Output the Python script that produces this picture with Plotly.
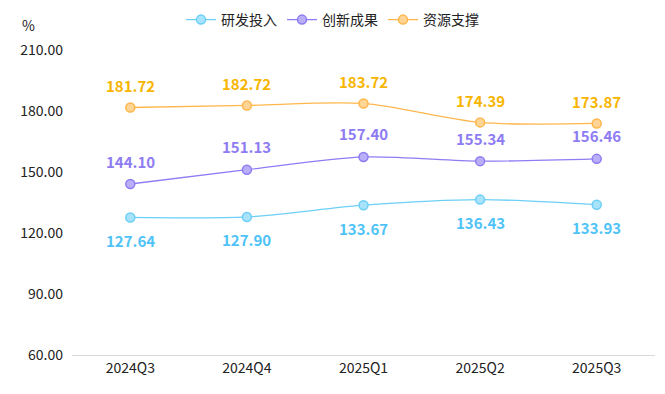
import plotly.graph_objects as go

categories = ["2024Q3", "2024Q4", "2025Q1", "2025Q2", "2025Q3"]
rd_input = [127.64, 127.90, 133.67, 136.43, 133.93]
innovation = [144.10, 151.13, 157.40, 155.34, 156.46]
resources = [181.72, 182.72, 183.72, 174.39, 173.87]

series = [
    ("研发投入", rd_input, "#6CCFF6", "#A8E3FB", "#4FC3F7", -23),
    ("创新成果", innovation, "#8E7CF3", "#B9AEF8", "#8E7CF3", 23),
    ("资源支撑", resources, "#FFB74D", "#FFD596", "#F7B500", 22),
]

font_family = "Noto Sans CJK SC, Noto Sans, sans-serif"

fig = go.Figure()
annotations = []
for name, vals, color, fill, tcolor, shift in series:
    fig.add_trace(go.Scatter(
        x=categories, y=vals, name=name,
        mode="lines+markers",
        line=dict(color=color, width=1.3, shape="spline", smoothing=0.8),
        marker=dict(symbol="circle", size=9, color=fill, line=dict(color=color, width=1.5)),
        cliponaxis=False,
    ))
    for c, v in zip(categories, vals):
        annotations.append(dict(
            x=c, y=v, xref="x", yref="y", text=f"{v:.2f}", showarrow=False,
            yshift=shift, xanchor="center", yanchor="middle",
            font=dict(color=tcolor, size=15, family=font_family, weight="bold"),
        ))

annotations.append(dict(text="%", xref="paper", yref="paper", x=(28 - 72) / 583, y=(355 - 25) / 305,
                        xanchor="center", yanchor="middle", showarrow=False,
                        font=dict(size=14, color="#222")))

fig.update_layout(
    width=665, height=394,
    margin=dict(l=72, r=10, t=50, b=39, autoexpand=False),
    paper_bgcolor="white", plot_bgcolor="white",
    font=dict(family=font_family, size=14, color="#222"),
    showlegend=True,
    legend=dict(orientation="h", xref="container", x=0.5, xanchor="center",
                yref="container", y=1 - 20 / 394, yanchor="middle",
                font=dict(size=14, color="#222"), tracegroupgap=0),
    xaxis=dict(showgrid=False, showline=True, linecolor="#D9D9D9", linewidth=1,
               range=[-0.5, 4.5], ticks="", tickfont=dict(size=14, color="#222")),
    yaxis=dict(range=[60, 210], tickvals=[60, 90, 120, 150, 180, 210],
               tickformat=".2f", showgrid=False, zeroline=False, showline=False,
               tickfont=dict(size=14, color="#222"), ticklabelstandoff=8),
    annotations=annotations,
)

fig.write_html("out.html", config={"displayModeBar": False},
               post_script="document.body.style.margin='0';document.body.style.overflow='hidden';")
